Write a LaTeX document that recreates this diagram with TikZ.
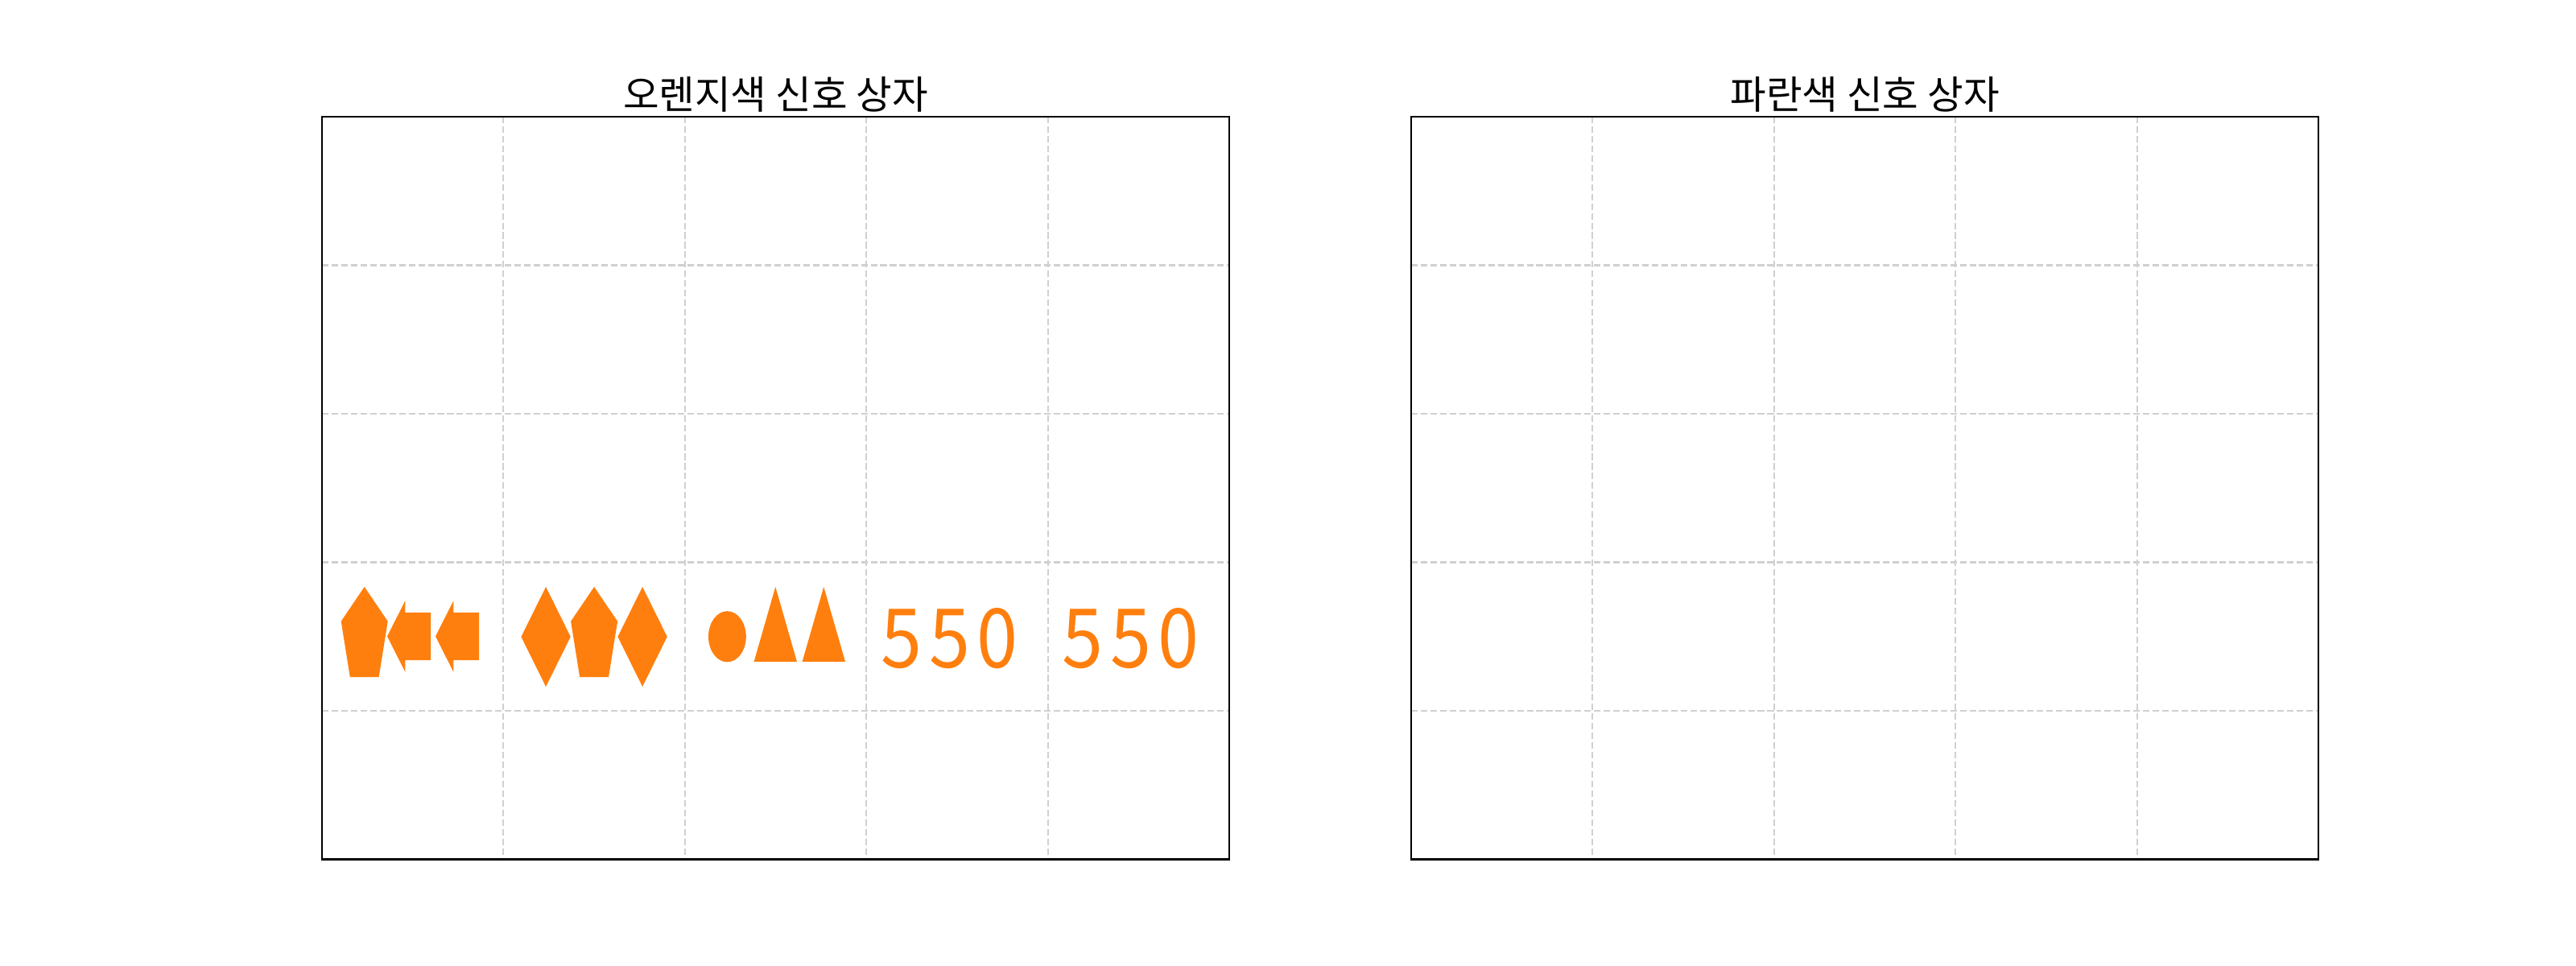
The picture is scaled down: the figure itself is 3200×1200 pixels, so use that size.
\documentclass[tikz,border=0pt]{standalone}
\usepackage{fontspec}
\newfontfamily\krfont{Noto Sans CJK KR}
\definecolor{tabor}{HTML}{FF7F0E}
\definecolor{gridc}{HTML}{D0D0D0}
\tikzset{
  mk/.style={fill=tabor, draw=none},
  gridline/.style={draw=gridc, line width=0.6pt, dash pattern=on 2.3pt off 1.1pt},
  frame/.style={draw=black, line width=0.6pt},
  title/.style={font=\krfont\fontsize{13.8}{16}\selectfont, anchor=base, inner sep=0pt},
  digit/.style={font=\krfont\fontsize{29}{34}\selectfont, text=tabor, anchor=base, inner sep=0pt},
  pentm/.pic={\fill[mk] (0,-62) -- (29.0,-19.2) -- (17.9,50.2) -- (-17.9,50.2) -- (-29.0,-19.2) -- cycle;},
  arrowm/.pic={\fill[mk] (-31.7,0) -- (-9.4,-44.2) -- (-9.4,-29.7) -- (22.3,-29.7) -- (22.3,29.7) -- (-9.4,29.7) -- (-9.4,44.2) -- cycle;},
  diamm/.pic={\fill[mk] (0,-62) -- (30.7,0) -- (0,62) -- (-30.7,0) -- cycle;},
  trim/.pic={\fill[mk] (0,-62) -- (26.7,31) -- (-26.7,31) -- cycle;}
}
\newcommand\dg[1]{\scalebox{0.9}[1]{#1}}
\begin{document}
\begin{tikzpicture}[x=0.01cm, y=-0.01cm]
\useasboundingbox (0,0) rectangle (3200,1200);
% grids
\foreach \xo in {400,1753}{
  \foreach \i in {1,...,4}{
    \draw[gridline] (\xo+\i*225.4,145) -- (\xo+\i*225.4,1067.5);
    \draw[gridline] (\xo,145+\i*184.5) -- (\xo+1127,145+\i*184.5);
  }
}
% frames
\draw[frame] (400,145) rectangle (1527,1067.5);
\draw[frame] (1753,145) rectangle (2880,1067.5);
% titles
\node[title] (t1) at (963.5,135) {오렌지색 신호 상자};
\node[title] (t2) at (2316.5,135) {파란색 신호 상자};
% cell 1
\pic at (452.7,791) {pentm};
\pic at (512.7,790.5) {arrowm};
\pic at (572.7,790.5) {arrowm};
% cell 2
\pic at (678.1,791) {diamm};
\pic at (738.1,791) {pentm};
\pic at (798.1,791) {diamm};
% cell 3
\fill[mk] (903.4,790.8) ellipse [x radius=0.234cm, y radius=0.316cm];
\pic at (963.3,791) {trim};
\pic at (1023.3,791) {trim};
% cell 4 and 5 digits
\node[digit] (d1) at (1120,829) {\dg{5}};
\node[digit] (d2) at (1179.5,829) {\dg{5}};
\node[digit] (d3) at (1238.7,829) {\dg{0}};
\node[digit] (d4) at (1345.4,829) {\dg{5}};
\node[digit] (d5) at (1404.9,829) {\dg{5}};
\node[digit] (d6) at (1464.1,829) {\dg{0}};
\end{tikzpicture}
\end{document}
